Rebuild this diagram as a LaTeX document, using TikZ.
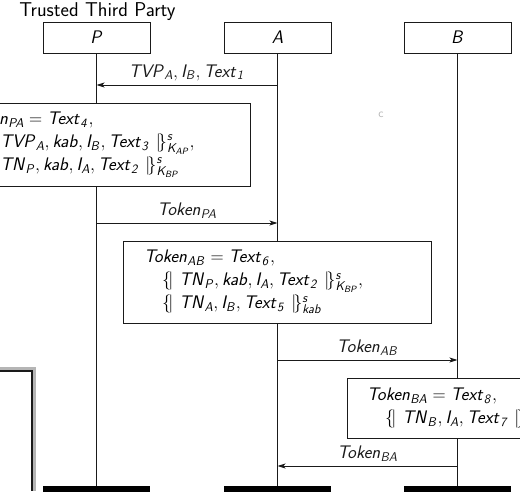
\documentclass[tikz,border=0pt]{standalone}
\usepackage{fix-cm}
\usepackage{amsmath}
\usepackage{tikz}
\usetikzlibrary{arrows.meta,positioning}
\definecolor{ink}{HTML}{1A1A1A}
\definecolor{haze}{HTML}{B5B5B5}
\DeclareMathAlphabet{\mathsfit}{OT1}{cmss}{m}{sl}
\newcommand{\tx}[1]{\mathsfit{#1}}
\newcommand{\lb}{\{\!|\ }
\newcommand{\rb}{\ |\!\}}
\begin{document}
\begin{tikzpicture}[x=1pt, y=-1pt, >={Stealth[length=8pt,width=5pt,inset=2pt]},
  every node/.style={font=\fontsize{18.2}{23}\selectfont\sffamily},
  head/.style={draw=ink, line width=1pt, fill=white, minimum width=107pt, minimum height=31pt, inner sep=0pt},
  stop/.style={fill=black, minimum width=107pt, minimum height=12pt, inner sep=0pt, anchor=north},
  action/.style={draw=ink, line width=1pt, fill=white, align=left, inner xsep=21pt, inner ysep=0pt},
  life/.style={ink, line width=0.8pt},
  msg/.style={->, ink, line width=0.8pt},
  lbl/.style={above=4pt, inner sep=0pt}]
  \useasboundingbox (0,0) rectangle (520,491);
  \clip (0,0) rectangle (520,491);
  % instances
  \node[font=\fontsize{20}{23}\selectfont\sffamily] at (97.5,12) {Trusted Third Party};
  \node[head] (P) at (96.5,37.5) {$\tx{P}$};
  \node[head] (A) at (277.5,37.5) {$\tx{A}$};
  \node[head] (B) at (457.5,37.5) {$\tx{B}$};
  \node[stop] (Pend) at (96.5,486) {};
  \node[stop] (Aend) at (277.5,486) {};
  \node[stop] (Bend) at (457.5,486) {};
  \draw[life] (P) -- (Pend);
  \draw[life] (A) -- (Aend);
  \draw[life] (B) -- (Bend);
  % messages
  \draw[msg] (A |- 0,85) -- node[lbl] {$\tx{TVP}_{\tx{A}}, \tx{I}_{\tx{B}}, \tx{Text}_{\tx{1}}$} (P |- 0,85);
  \node[action, text width=264pt, minimum height=83pt] (tokPA) at (97,144.5)
  {$\tx{Token}_{\tx{PA}} = \tx{Text}_{\tx{4}},$\\
   \quad$\lb\tx{TVP}_{\tx{A}}, \tx{kab}, \tx{I}_{\tx{B}}, \tx{Text}_{\tx{3}}\rb^{\tx{s}}_{\tx{K}_{\tx{AP}}},$\\
   \quad$\lb\tx{TN}_{\tx{P}}, \tx{kab}, \tx{I}_{\tx{A}}, \tx{Text}_{\tx{2}}\rb^{\tx{s}}_{\tx{K}_{\tx{BP}}}$};
  \draw[msg] (P |- 0,223) -- node[lbl] {$\tx{Token}_{\tx{PA}}$} (A |- 0,223);
  \node[action, text width=266pt, minimum height=82pt] (tokAB) at (277,282)
  {$\tx{Token}_{\tx{AB}} = \tx{Text}_{\tx{6}},$\\
   \quad$\lb\tx{TN}_{\tx{P}}, \tx{kab}, \tx{I}_{\tx{A}}, \tx{Text}_{\tx{2}}\rb^{\tx{s}}_{\tx{K}_{\tx{BP}}},$\\
   \quad$\lb\tx{TN}_{\tx{A}}, \tx{I}_{\tx{B}}, \tx{Text}_{\tx{5}}\rb^{\tx{s}}_{\tx{kab}}$};
  \draw[msg] (A |- 0,360) -- node[lbl] {$\tx{Token}_{\tx{AB}}$} (B |- 0,360);
  \node[action, text width=182pt, inner xsep=20pt, minimum height=60pt] (tokBA) at (458,408)
  {$\tx{Token}_{\tx{BA}} = \tx{Text}_{\tx{8}},$\\
   \quad$\lb\tx{TN}_{\tx{B}}, \tx{I}_{\tx{A}}, \tx{Text}_{\tx{7}}\rb^{\tx{s}}_{\tx{kab}}$};
  \draw[msg] (B |- 0,466) -- node[lbl] {$\tx{Token}_{\tx{BA}}$} (A |- 0,466);
  % stray mark and frame edge
  \node[text=haze, font=\fontsize{12}{12}\selectfont\sffamily] at (381,115) {c};
  \draw[haze, line width=3pt] (0,368.5) -- (34.5,368.5) -- (34.5,491);
  \draw[ink, line width=1.5pt] (0,371) -- (32,371) -- (32,491);
\end{tikzpicture}
\end{document}
